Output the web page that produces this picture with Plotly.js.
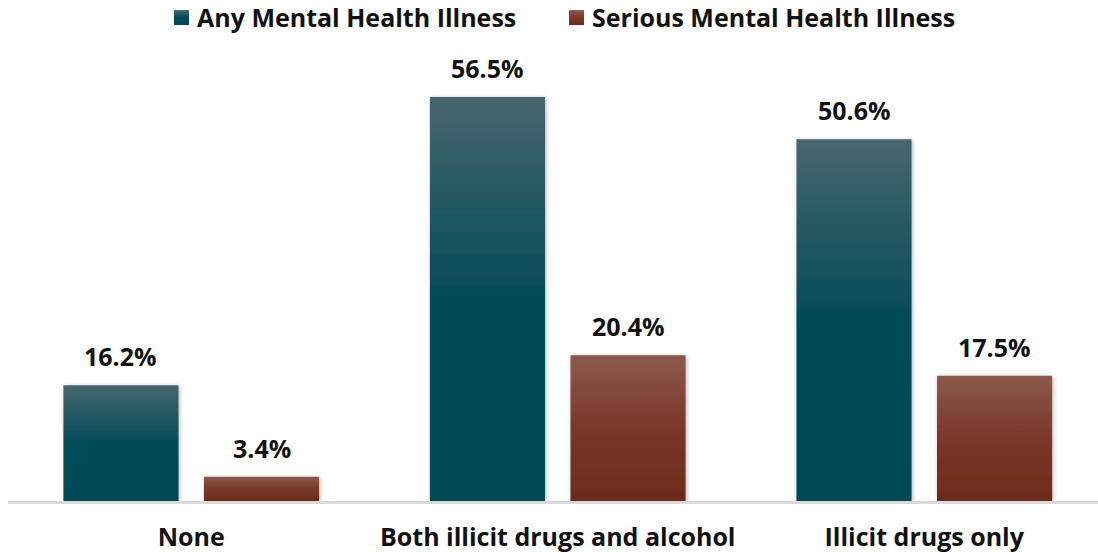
<!DOCTYPE html>
<html>
<head>
<meta charset="utf-8">
<script src="https://cdn.plot.ly/plotly-3.0.1.min.js"></script>
<style>
  html, body { margin: 0; padding: 0; background: #fff; }
  #chart { width: 1098px; height: 552px; }
</style>
</head>
<body>
<div id="chart"></div>
<script>
const categories = ["None", "Both illicit drugs and alcohol", "Illicit drugs only"];
const anyMental = [16.2, 56.5, 50.6];
const seriousMental = [3.4, 20.4, 17.5];
const seriesNames = ["Any Mental Health Illness", "Serious Mental Health Illness"];
const seriesColors = ["#024b58", "#74301f"];

const FONT = "'Open Sans', 'Noto Sans', sans-serif";
const bargap = 0.233, bargroupgap = 0.181;

const data = [
  { type: "bar", name: seriesNames[0], x: categories, y: anyMental,
    marker: { color: seriesColors[0] }, hoverinfo: "none" },
  { type: "bar", name: seriesNames[1], x: categories, y: seriousMental,
    marker: { color: seriesColors[1] }, hoverinfo: "none" }
];

const off = (1 - bargap) / 4;
const annotations = [];
[anyMental, seriousMental].forEach((vals, s) => {
  vals.forEach((v, i) => {
    annotations.push({
      x: i + (s === 0 ? -off : off), y: v, xref: "x", yref: "y",
      text: v.toFixed(1) + "%", showarrow: false,
      yanchor: "bottom", yshift: 10,
      font: { family: FONT, size: 25, color: "#111", weight: "bold" }
    });
  });
});

const layout = {
  width: 1098, height: 552,
  margin: { l: 8, r: 0, t: 10, b: 51 },
  paper_bgcolor: "#fff", plot_bgcolor: "#fff",
  barmode: "group", bargap: bargap, bargroupgap: bargroupgap,
  showlegend: true,
  legend: { orientation: "h", x: 0.5, xanchor: "center", y: 0.9, yanchor: "middle",
    font: { family: FONT, size: 25, color: "#111", weight: "bold" },
    traceorder: "normal", bgcolor: "rgba(0,0,0,0)" },
  xaxis: { type: "category", range: [-0.5, 2.474], showgrid: false, zeroline: false,
    showline: true, linecolor: "#d9d9d9", linewidth: 2.5, ticks: "",
    tickfont: { family: FONT, size: 25, color: "#111", weight: "bold" },
    ticklabelstandoff: 12, fixedrange: true },
  yaxis: { range: [0, 68.67], visible: false, showgrid: false, zeroline: false, fixedrange: true },
  annotations: annotations,
  font: { family: FONT }
};

Plotly.newPlot("chart", data, layout, { staticPlot: true, displayModeBar: false }).then(gd => {
  const NS = "http://www.w3.org/2000/svg";
  const svg = gd.querySelector("svg.main-svg");
  let defs = svg.querySelector("defs");
  const stops = [
    [["0", "#48666f"], ["0.5", "#024b58"], ["1", "#004a56"]],
    [["0", "#8b5a4d"], ["0.5", "#7a3727"], ["1", "#6c2b1a"]]
  ];
  stops.forEach((st, i) => {
    const g = document.createElementNS(NS, "linearGradient");
    g.setAttribute("id", "grad" + i);
    g.setAttribute("x1", "0"); g.setAttribute("y1", "0");
    g.setAttribute("x2", "0"); g.setAttribute("y2", "1");
    st.forEach(([o, c]) => {
      const s = document.createElementNS(NS, "stop");
      s.setAttribute("offset", o); s.setAttribute("stop-color", c);
      g.appendChild(s);
    });
    defs.appendChild(g);
  });
  const f = document.createElementNS(NS, "filter");
  f.setAttribute("id", "barshadow");
  f.setAttribute("x", "-10%"); f.setAttribute("y", "-10%");
  f.setAttribute("width", "120%"); f.setAttribute("height", "120%");
  const ds = document.createElementNS(NS, "feDropShadow");
  ds.setAttribute("dx", "1"); ds.setAttribute("dy", "1");
  ds.setAttribute("stdDeviation", "2");
  ds.setAttribute("flood-color", "#000"); ds.setAttribute("flood-opacity", "0.3");
  f.appendChild(ds);
  defs.appendChild(f);

  gd.querySelectorAll(".barlayer .trace.bars").forEach((tr, i) => {
    tr.querySelectorAll("path").forEach(p => {
      p.style.fill = "url(#grad" + i + ")";
      p.setAttribute("filter", "url(#barshadow)");
    });
  });

  // legend placement (text left edges and vertical centre as in the reference)
  const sb = gd.querySelector(".legend .scrollbox");
  if (sb) sb.removeAttribute("clip-path");
  const targetLeft = [197, 592];
  const targetCy = 17.3;
  gd.querySelectorAll(".legend .traces").forEach((tr, i) => {
    tr.querySelectorAll(".legendpoints path").forEach(p => {
      p.style.fill = "url(#grad" + i + ")";
      p.setAttribute("transform", "translate(24.5,0) scale(1.25)");
    });
    const txt = tr.querySelector("text.legendtext");
    if (!txt) return;
    const r = txt.getBoundingClientRect();
    const dx = targetLeft[i] - r.left;
    const dy = targetCy - (r.top + r.bottom) / 2;
    const t = tr.getAttribute("transform") || "";
    const m = t.match(/translate\(\s*([-\d.]+)[ ,]+([-\d.]+)\s*\)/);
    const x0 = m ? parseFloat(m[1]) : 0, y0 = m ? parseFloat(m[2]) : 0;
    tr.setAttribute("transform", "translate(" + (x0 + dx) + "," + (y0 + dy) + ")");
  });
});
</script>
</body>
</html>
